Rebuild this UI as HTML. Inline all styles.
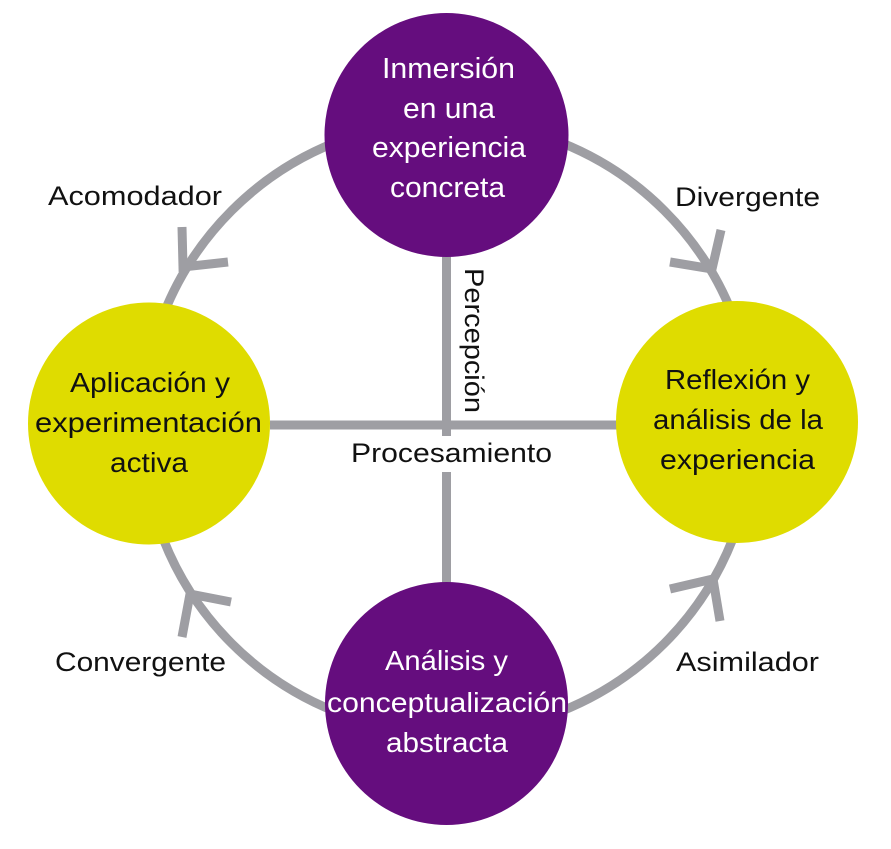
<!DOCTYPE html>
<html>
<head>
<meta charset="utf-8">
<style>
  html, body { margin: 0; padding: 0; background: #ffffff; }
  svg { display: block; }
  text { font-family: "Liberation Sans", "DejaVu Sans", sans-serif; }
</style>
</head>
<body>
<svg width="891" height="849" viewBox="0 0 891 849" xmlns="http://www.w3.org/2000/svg">
  <rect width="891" height="849" fill="#ffffff"/>

  <!-- ring -->
  <circle cx="448" cy="427" r="306" fill="none" stroke="#9e9ea3" stroke-width="9"/>

  <!-- axes -->
  <line x1="270" y1="425" x2="618" y2="425" stroke="#9e9ea3" stroke-width="9"/>
  <line x1="446.5" y1="250" x2="446.5" y2="436" stroke="#9e9ea3" stroke-width="9"/>
  <line x1="446.5" y1="472" x2="446.5" y2="590" stroke="#9e9ea3" stroke-width="9"/>

  <!-- arrowheads -->
  <g fill="none" stroke="#9e9ea3" stroke-width="9" stroke-linejoin="miter" stroke-linecap="butt">
    <polyline points="182,227 183,267 228,262"/>
    <polyline points="721,230 712,269 670,262"/>
    <polyline points="182,637 190,594 231,602"/>
    <polyline points="670,589 713,579 720,621"/>
  </g>

  <!-- circles -->
  <circle cx="446.5" cy="135" r="122" fill="#650d7e"/>
  <circle cx="149" cy="423.5" r="121" fill="#dfdc00"/>
  <circle cx="737" cy="422" r="121" fill="#dfdc00"/>
  <circle cx="446.5" cy="703.5" r="121.5" fill="#650d7e"/>

  <!-- top circle text -->
  <g fill="#ffffff" font-size="29">
    <text x="382" y="78" textLength="133" lengthAdjust="spacingAndGlyphs">Inmersión</text>
    <text x="403" y="118" textLength="92" lengthAdjust="spacingAndGlyphs">en una</text>
    <text x="372" y="157" textLength="154" lengthAdjust="spacingAndGlyphs">experiencia</text>
    <text x="390" y="197" textLength="115" lengthAdjust="spacingAndGlyphs">concreta</text>
  </g>

  <!-- left circle text -->
  <g fill="#111111" font-size="28">
    <text x="70" y="392" textLength="160" lengthAdjust="spacingAndGlyphs">Aplicación y</text>
    <text x="35" y="432" textLength="227" lengthAdjust="spacingAndGlyphs">experimentación</text>
    <text x="110" y="472" textLength="78" lengthAdjust="spacingAndGlyphs">activa</text>
  </g>

  <!-- right circle text -->
  <g fill="#111111" font-size="28">
    <text x="665" y="389" textLength="145" lengthAdjust="spacingAndGlyphs">Reflexión y</text>
    <text x="653" y="429" textLength="170" lengthAdjust="spacingAndGlyphs">análisis de la</text>
    <text x="660" y="469" textLength="155" lengthAdjust="spacingAndGlyphs">experiencia</text>
  </g>

  <!-- bottom circle text -->
  <g fill="#ffffff" font-size="28">
    <text x="385" y="670" textLength="123" lengthAdjust="spacingAndGlyphs">Análisis y</text>
    <text x="327" y="712" textLength="240" lengthAdjust="spacingAndGlyphs">conceptualización</text>
    <text x="386" y="752" textLength="122" lengthAdjust="spacingAndGlyphs">abstracta</text>
  </g>

  <!-- outer labels -->
  <g fill="#111111" font-size="27">
    <text x="48" y="205" textLength="174" lengthAdjust="spacingAndGlyphs">Acomodador</text>
    <text x="675" y="206" textLength="145" lengthAdjust="spacingAndGlyphs">Divergente</text>
    <text x="55" y="671" textLength="171" lengthAdjust="spacingAndGlyphs">Convergente</text>
    <text x="676" y="671" textLength="143" lengthAdjust="spacingAndGlyphs">Asimilador</text>
    <text x="351" y="462" textLength="201" lengthAdjust="spacingAndGlyphs">Procesamiento</text>
    <text x="0" y="0" transform="translate(465,268) rotate(90)" textLength="145" lengthAdjust="spacingAndGlyphs">Percepción</text>
  </g>
</svg>
</body>
</html>
